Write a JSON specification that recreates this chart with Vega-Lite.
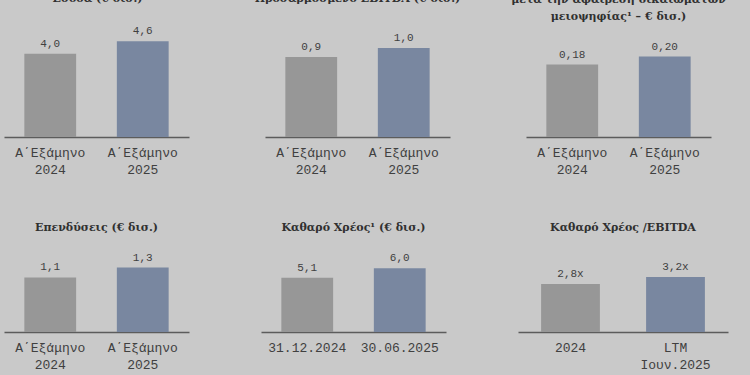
{
  "$schema": "https://vega.github.io/schema/vega-lite/v6.json",
  "background": "#c9c9c9",
  "padding": {"left": 4, "top": -7, "right": 22, "bottom": 5},
  "datasets": {
    "d": [
      {"panel": "p1", "period": "Α΄Εξάμηνο|2024", "series": "prev", "value": 4.0, "label": "4,0"},
      {"panel": "p1", "period": "Α΄Εξάμηνο|2025", "series": "curr", "value": 4.6, "label": "4,6"},
      {"panel": "p2", "period": "Α΄Εξάμηνο|2024", "series": "prev", "value": 0.9, "label": "0,9"},
      {"panel": "p2", "period": "Α΄Εξάμηνο|2025", "series": "curr", "value": 1.0, "label": "1,0"},
      {"panel": "p3", "period": "Α΄Εξάμηνο|2024", "series": "prev", "value": 0.18, "label": "0,18"},
      {"panel": "p3", "period": "Α΄Εξάμηνο|2025", "series": "curr", "value": 0.20, "label": "0,20"},
      {"panel": "p4", "period": "Α΄Εξάμηνο|2024", "series": "prev", "value": 1.1, "label": "1,1"},
      {"panel": "p4", "period": "Α΄Εξάμηνο|2025", "series": "curr", "value": 1.3, "label": "1,3"},
      {"panel": "p5", "period": "31.12.2024", "series": "prev", "value": 5.1, "label": "5,1"},
      {"panel": "p5", "period": "30.06.2025", "series": "curr", "value": 6.0, "label": "6,0"},
      {"panel": "p6", "period": "2024", "series": "prev", "value": 2.8, "label": "2,8x"},
      {"panel": "p6", "period": "LTM|Ιουν.2025", "series": "curr", "value": 3.2, "label": "3,2x"}
    ]
  },
  "vconcat": [
    {
      "hconcat": [
        {
          "width": 185, "height": 115,
          "data": {"name": "d"},
          "transform": [{"filter": "datum.panel === 'p1'"}],
          "title": {"text": "Έσοδα (€ δισ.)", "offset": 18},
          "encoding": {
            "x": {"field": "period", "type": "nominal", "sort": null, "scale": {"paddingInner": 0.44, "paddingOuter": 0.22}},
            "y": {"field": "value", "type": "quantitative", "axis": null, "scale": {"domain": [0, 5.53]}}
          },
          "layer": [
            {"mark": {"type": "bar"}, "encoding": {"color": {"field": "series", "type": "nominal", "scale": {"domain": ["prev", "curr"], "range": ["#979797", "#7987a0"]}, "legend": null}}},
            {"mark": {"type": "text", "baseline": "middle", "dy": -10, "font": "Liberation Mono", "fontSize": 11, "color": "#404040"}, "encoding": {"text": {"field": "label"}}}
          ]
        },
        {
          "width": 185, "height": 115,
          "data": {"name": "d"},
          "transform": [{"filter": "datum.panel === 'p2'"}],
          "title": {"text": "Προσαρμοσμένο EBITDA (€ δισ.)", "offset": 18},
          "encoding": {
            "x": {"field": "period", "type": "nominal", "sort": null, "scale": {"paddingInner": 0.44, "paddingOuter": 0.22}},
            "y": {"field": "value", "type": "quantitative", "axis": null, "scale": {"domain": [0, 1.292]}}
          },
          "layer": [
            {"mark": {"type": "bar"}, "encoding": {"color": {"field": "series", "type": "nominal", "scale": {"domain": ["prev", "curr"], "range": ["#979797", "#7987a0"]}, "legend": null}}},
            {"mark": {"type": "text", "baseline": "middle", "dy": -10, "font": "Liberation Mono", "fontSize": 11, "color": "#404040"}, "encoding": {"text": {"field": "label"}}}
          ]
        },
        {
          "width": 185, "height": 115,
          "data": {"name": "d"},
          "transform": [{"filter": "datum.panel === 'p3'"}],
          "title": {"text": ["μετά την αφαίρεση δικαιωμάτων", "μειοψηφίας¹ – € δισ.)"], "offset": 0},
          "encoding": {
            "x": {"field": "period", "type": "nominal", "sort": null, "scale": {"paddingInner": 0.44, "paddingOuter": 0.22}},
            "y": {"field": "value", "type": "quantitative", "axis": null, "scale": {"domain": [0, 0.286]}}
          },
          "layer": [
            {"mark": {"type": "bar"}, "encoding": {"color": {"field": "series", "type": "nominal", "scale": {"domain": ["prev", "curr"], "range": ["#979797", "#7987a0"]}, "legend": null}}},
            {"mark": {"type": "text", "baseline": "middle", "dy": -10, "font": "Liberation Mono", "fontSize": 11, "color": "#404040"}, "encoding": {"text": {"field": "label"}}}
          ]
        }
      ],
      "spacing": 76,
      "bounds": "flush"
    },
    {
      "hconcat": [
        {
          "width": 185, "height": 90,
          "data": {"name": "d"},
          "transform": [{"filter": "datum.panel === 'p4'"}],
          "title": {"text": "Επενδύσεις (€ δισ.)", "offset": 9},
          "encoding": {
            "x": {"field": "period", "type": "nominal", "sort": null, "scale": {"paddingInner": 0.44, "paddingOuter": 0.22}},
            "y": {"field": "value", "type": "quantitative", "axis": null, "scale": {"domain": [0, 1.815]}}
          },
          "layer": [
            {"mark": {"type": "bar"}, "encoding": {"color": {"field": "series", "type": "nominal", "scale": {"domain": ["prev", "curr"], "range": ["#979797", "#7987a0"]}, "legend": null}}},
            {"mark": {"type": "text", "baseline": "middle", "dy": -10, "font": "Liberation Mono", "fontSize": 11, "color": "#404040"}, "encoding": {"text": {"field": "label"}}}
          ]
        },
        {
          "width": 185, "height": 90,
          "data": {"name": "d"},
          "transform": [{"filter": "datum.panel === 'p5'"}],
          "title": {"text": "Καθαρό Χρέος¹ (€ δισ.)", "offset": 9},
          "encoding": {
            "x": {"field": "period", "type": "nominal", "sort": null, "scale": {"paddingInner": 0.44, "paddingOuter": 0.22}},
            "y": {"field": "value", "type": "quantitative", "axis": null, "scale": {"domain": [0, 8.47]}}
          },
          "layer": [
            {"mark": {"type": "bar"}, "encoding": {"color": {"field": "series", "type": "nominal", "scale": {"domain": ["prev", "curr"], "range": ["#979797", "#7987a0"]}, "legend": null}}},
            {"mark": {"type": "text", "baseline": "middle", "dy": -10, "font": "Liberation Mono", "fontSize": 11, "color": "#404040"}, "encoding": {"text": {"field": "label"}}}
          ]
        },
        {
          "width": 210, "height": 90,
          "data": {"name": "d"},
          "transform": [{"filter": "datum.panel === 'p6'"}],
          "title": {"text": "Καθαρό Χρέος /EBITDA", "offset": 9},
          "encoding": {
            "x": {"field": "period", "type": "nominal", "sort": null, "scale": {"paddingInner": 0.44, "paddingOuter": 0.22}},
            "y": {"field": "value", "type": "quantitative", "axis": null, "scale": {"domain": [0, 5.24]}}
          },
          "layer": [
            {"mark": {"type": "bar"}, "encoding": {"color": {"field": "series", "type": "nominal", "scale": {"domain": ["prev", "curr"], "range": ["#979797", "#7987a0"]}, "legend": null}}},
            {"mark": {"type": "text", "baseline": "middle", "dy": -10, "font": "Liberation Mono", "fontSize": 11, "color": "#404040"}, "encoding": {"text": {"field": "label"}}}
          ]
        }
      ],
      "spacing": 72,
      "bounds": "flush"
    }
  ],
  "spacing": 220,
  "bounds": "flush",
  "config": {
    "view": {"stroke": null},
    "axisX": {
      "title": null,
      "ticks": false,
      "tickSize": 0,
      "grid": false,
      "labelAngle": 0,
      "labelPadding": 9,
      "labelFont": "Liberation Mono",
      "labelFontSize": 13,
      "labelColor": "#404040",
      "labelLineHeight": 17,
      "labelExpr": "split(datum.label, '|')",
      "domainColor": "#5c5c5c",
      "domainWidth": 1.5,
      "zindex": 1
    },
    "title": {
      "font": "DejaVu Serif",
      "fontWeight": "bold",
      "fontSize": 11,
      "color": "#303030",
      "anchor": "middle",
      "frame": "group",
      "baseline": "bottom",
      "lineHeight": 17
    }
  }
}
